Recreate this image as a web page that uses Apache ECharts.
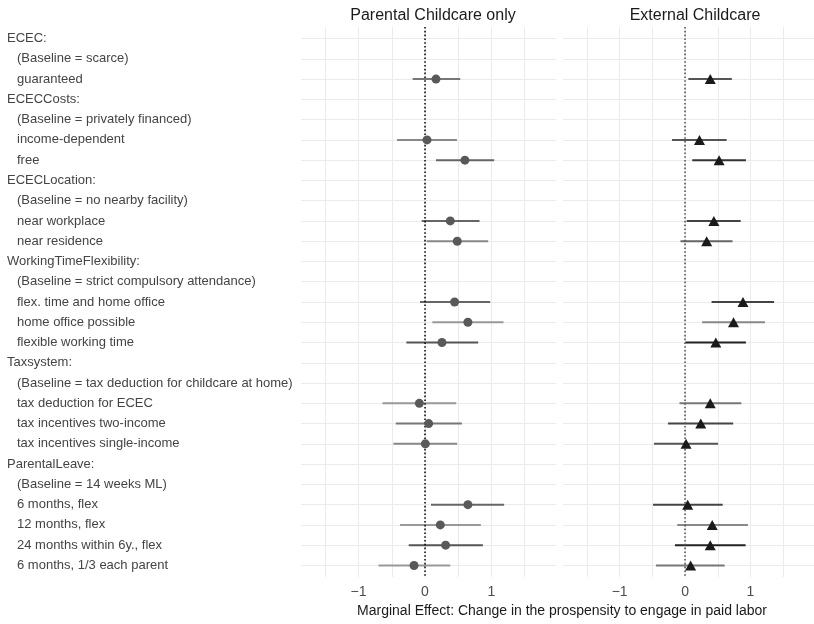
<!DOCTYPE html>
<html>
<head>
<meta charset="utf-8">
<script src="https://cdn.jsdelivr.net/npm/echarts@6/dist/echarts.min.js"></script>
<style>
  html, body { margin: 0; padding: 0; background: #fff; }
  #chart { width: 814px; height: 624px; }
</style>
</head>
<body>
<div id="chart"></div>
<script>
// row labels, top to bottom
var labels = [
  'ECEC:', '(Baseline = scarce)', 'guaranteed',
  'ECECCosts:', '(Baseline = privately financed)', 'income-dependent', 'free',
  'ECECLocation:', '(Baseline = no nearby facility)', 'near workplace', 'near residence',
  'WorkingTimeFlexibility:', '(Baseline = strict compulsory attendance)', 'flex. time and home office', 'home office possible', 'flexible working time',
  'Taxsystem:', '(Baseline = tax deduction for childcare at home)', 'tax deduction for ECEC', 'tax incentives two-income', 'tax incentives single-income',
  'ParentalLeave:', '(Baseline = 14 weeks ML)', '6 months, flex', '12 months, flex', '24 months within 6y., flex', '6 months, 1/3 each parent'
];

// Parental Childcare only
var parEst  = [null,null,0.165, null,null,0.03,0.60, null,null,0.38,0.485, null,null,0.445,0.645,0.255, null,null,-0.085,0.055,0.005, null,null,0.645,0.23,0.31,-0.165];
var parLow  = [null,null,-0.185, null,null,-0.42,0.165, null,null,-0.05,0.025, null,null,-0.075,0.11,-0.28, null,null,-0.64,-0.44,-0.475, null,null,0.09,-0.375,-0.245,-0.70];
var parHigh = [null,null,0.53, null,null,0.48,1.04, null,null,0.82,0.95, null,null,0.98,1.18,0.80, null,null,0.47,0.555,0.485, null,null,1.19,0.84,0.87,0.38];

// External Childcare
var extEst  = [null,null,0.385, null,null,0.22,0.52, null,null,0.44,0.33, null,null,0.885,0.74,0.47, null,null,0.385,0.24,0.015, null,null,0.04,0.415,0.385,0.085];
var extLow  = [null,null,0.05, null,null,-0.2,0.11, null,null,0.025,-0.07, null,null,0.405,0.26,0.005, null,null,-0.085,-0.26,-0.475, null,null,-0.49,-0.12,-0.155,-0.445];
var extHigh = [null,null,0.715, null,null,0.635,0.93, null,null,0.85,0.725, null,null,1.36,1.22,0.93, null,null,0.86,0.735,0.505, null,null,0.575,0.96,0.925,0.605];

// error bar shades per row
var parShade = [null,null,'#777', null,null,'#888','#666', null,null,'#666','#888', null,null,'#666','#999','#555', null,null,'#999','#777','#888', null,null,'#666','#999','#555','#999'];
var extShade = [null,null,'#555', null,null,'#555','#333', null,null,'#444','#666', null,null,'#444','#888','#222', null,null,'#777','#444','#555', null,null,'#444','#888','#222','#777'];

var xTicks = [-1.5, -1, -0.5, 0, 0.5, 1, 1.5];
var xLabels = [-1, 0, 1];
var rows = labels.map(function (d, i) { return i; });

function bars(est, low, high) {
  var out = [];
  est.forEach(function (v, i) { if (v !== null) out.push([low[i], high[i], i]); });
  return out;
}
function points(est) {
  var out = [];
  est.forEach(function (v, i) { if (v !== null) out.push([v, i]); });
  return out;
}
function barRenderer(shade) {
  return function (params, api) {
    var a = api.coord([api.value(0), api.value(2)]);
    var b = api.coord([api.value(1), api.value(2)]);
    var row = api.value(2);
    return {
      type: 'line',
      shape: { x1: a[0], y1: a[1], x2: b[0], y2: b[1] },
      style: { stroke: shade[row], lineWidth: 2 }
    };
  };
}

var font = 'Liberation Sans, Arial, sans-serif';

function xAxisCfg(idx) {
  return {
    type: 'value', gridIndex: idx, min: -1.865, max: 1.97,
    axisLine: { show: false },
    axisTick: { show: false, customValues: xTicks },
    axisLabel: {
      customValues: xLabels, margin: 8, fontSize: 14, color: '#4d4d4d', fontFamily: font,
      formatter: function (v) { return v < 0 ? '\u2212' + Math.abs(v) : String(v); }
    },
    splitLine: { lineStyle: { color: '#ebebeb', width: 1 } }
  };
}
function yAxisCfg(idx, showLabels) {
  return {
    type: 'value', gridIndex: idx, inverse: true, min: -0.57, max: 26.57,
    axisLine: { show: false },
    axisTick: { show: false, customValues: rows },
    axisLabel: {
      show: showLabels, customValues: rows, align: 'left', margin: 294,
      fontSize: 13, color: '#444', fontFamily: font,
      formatter: function (v) {
        var t = labels[v];
        return /:$/.test(t) ? '{h|' + t + '}' : '{s|' + t + '}';
      },
      rich: {
        h: { fontSize: 13, color: '#444', fontFamily: font },
        s: { fontSize: 13, color: '#444', fontFamily: font, padding: [0, 0, 0, 10] }
      }
    },
    splitLine: { lineStyle: { color: '#ebebeb', width: 1 } }
  };
}

var chart = echarts.init(document.getElementById('chart'));
chart.setOption({
  backgroundColor: '#fff',
  animation: false,
  textStyle: { fontFamily: font },
  title: [
    { text: 'Parental Childcare only', left: 428, top: 3, textAlign: 'center',
      textStyle: { fontSize: 16, fontWeight: 'normal', color: '#1a1a1a', fontFamily: font } },
    { text: 'External Childcare', left: 690, top: 3, textAlign: 'center',
      textStyle: { fontSize: 16, fontWeight: 'normal', color: '#1a1a1a', fontFamily: font } },
    { text: 'Marginal Effect: Change in the prospensity to engage in paid labor', left: 557, top: 599, textAlign: 'center',
      textStyle: { fontSize: 14, fontWeight: 'normal', color: '#1a1a1a', fontFamily: font } }
  ],
  grid: [
    { left: 301, top: 27, width: 255, height: 550 },
    { left: 563, top: 27, width: 255, height: 550 }
  ],
  xAxis: [xAxisCfg(0), xAxisCfg(1)],
  yAxis: [yAxisCfg(0, true), yAxisCfg(1, false)],
  series: [
    {
      type: 'custom', xAxisIndex: 0, yAxisIndex: 0,
      renderItem: barRenderer(parShade),
      encode: { x: [0, 1], y: 2 },
      data: bars(parEst, parLow, parHigh),
      z: 3,
      markLine: {
        silent: true, symbol: 'none', label: { show: false },
        lineStyle: { color: '#111', width: 1.6, type: [1.6, 2.2] },
        data: [{ xAxis: 0 }]
      }
    },
    {
      type: 'scatter', xAxisIndex: 0, yAxisIndex: 0,
      symbol: 'circle', symbolSize: 9,
      itemStyle: { color: '#595959', opacity: 1 },
      data: points(parEst), z: 5
    },
    {
      type: 'custom', xAxisIndex: 1, yAxisIndex: 1,
      renderItem: barRenderer(extShade),
      encode: { x: [0, 1], y: 2 },
      data: bars(extEst, extLow, extHigh),
      z: 3,
      markLine: {
        silent: true, symbol: 'none', label: { show: false },
        lineStyle: { color: '#555', width: 1.6, type: [1.6, 2.2] },
        data: [{ xAxis: 0 }]
      }
    },
    {
      type: 'scatter', xAxisIndex: 1, yAxisIndex: 1,
      symbol: 'triangle', symbolSize: [11, 10],
      itemStyle: { color: '#1a1a1a', opacity: 1 },
      data: points(extEst), z: 5
    }
  ]
});
</script>
</body>
</html>
